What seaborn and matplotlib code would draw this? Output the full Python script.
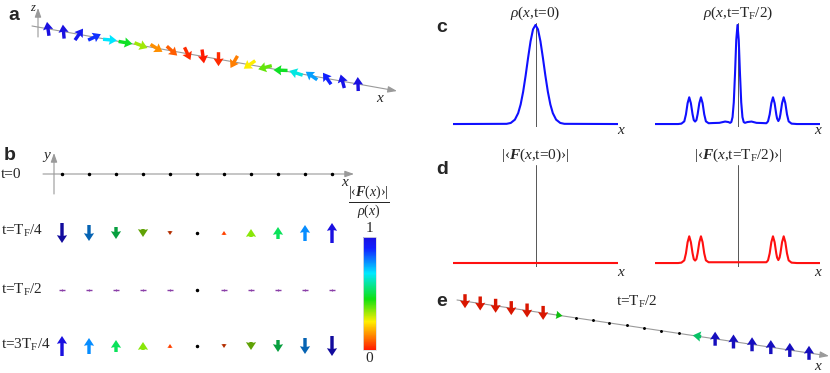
import numpy as np
import matplotlib
matplotlib.use("Agg")
import matplotlib.pyplot as plt
import seaborn as sns
from matplotlib.colors import LinearSegmentedColormap, Normalize, to_rgb
from matplotlib.cm import ScalarMappable

W, H = 830, 373

# ---- data ----
# a: spin chain at t=0, screen angle (deg, clockwise from up) and colour value
a_sites = np.arange(21)
a_angle = [-8, -5, 35, 65, 95, 100, 112, 122, 132, 155, 172, 180,
           210, 235, 255, 272, 288, 305, 325, 345, 358]
a_color = [1.0, 1.0, 0.95, 0.88, 0.68, 0.47, 0.33, 0.14, 0.08, 0.02, 0.0,
           0.02, 0.12, 0.25, 0.38, 0.47, 0.65, 0.76, 0.9, 0.97, 1.0]

# b: y-component of spin along the chain for the four times
b_sites = np.arange(-5, 6)
b_labels = ["t=0", r"t=T$_\mathrm{F}$/4", r"t=T$_\mathrm{F}$/2", r"t=3T$_\mathrm{F}$/4"]
b_quarter = [-1.0, -0.8, -0.6, -0.4, -0.2, 0.0, 0.2, 0.4, 0.6, 0.8, 1.0]
b_three_quarter = [1.0, 0.8, 0.6, 0.4, 0.2, 0.0, -0.2, -0.4, -0.6, -0.8, -1.0]
b_ratio = [1.0, 0.78, 0.52, 0.35, 0.05, 0.0, 0.05, 0.35, 0.52, 0.78, 1.0]

# c: density at t=0 and t=TF/2
c0_x = [-1, -0.35, -0.3, -0.25, -0.21, -0.18, -0.15, -0.12, -0.09, -0.06, -0.03, 0,
        0.03, 0.06, 0.09, 0.12, 0.15, 0.18, 0.21, 0.25, 0.3, 0.35, 1]
c0_y = [0, 0.002, 0.011, 0.044, 0.11, 0.198, 0.325, 0.487, 0.667, 0.835, 0.956, 1.0,
        0.956, 0.835, 0.667, 0.487, 0.325, 0.198, 0.11, 0.044, 0.011, 0.002, 0]

pairL_x = [-1, -0.72, -0.68, -0.645, -0.625, -0.605, -0.585, -0.565, -0.545, -0.53,
           -0.514, -0.498, -0.483, -0.463, -0.443, -0.423, -0.403, -0.383, -0.35]
pairL_y = [0, 0, 0.004, 0.027, 0.097, 0.21, 0.27, 0.21, 0.10, 0.04,
           0.025, 0.04, 0.10, 0.21, 0.27, 0.21, 0.097, 0.027, 0.008]
pairR_x = [0.35, 0.37, 0.39, 0.41, 0.43, 0.45, 0.47, 0.48, 0.495, 0.51, 0.52,
           0.54, 0.56, 0.58, 0.60, 0.62, 0.655, 0.72, 1]
pairR_y = [0.008, 0.027, 0.097, 0.21, 0.27, 0.21, 0.097, 0.055, 0.03, 0.055, 0.097,
           0.21, 0.27, 0.21, 0.097, 0.027, 0.004, 0, 0]
mid_x = [-0.3, -0.22, -0.15, -0.11, -0.09, -0.075, -0.06, -0.045, -0.03, -0.015, 0,
         0.015, 0.03, 0.045, 0.06, 0.075, 0.09, 0.12, 0.17, 0.23, 0.3]
mid_y = [0.01, 0.012, 0.025, 0.02, 0.012, 0.02, 0.07, 0.22, 0.51, 0.85, 1.0,
         0.85, 0.51, 0.22, 0.07, 0.02, 0.012, 0.02, 0.025, 0.012, 0.01]

# d: |<F>| at t=0 (flat) and t=TF/2
d0_x = [-1, 1]
d0_y = [0, 0]

# e: spin at t=TF/2, along-x and z components and colour value
e_sites = np.arange(21)
e_u = [0, 0, 0, 0, 0, 0, 0.45, 0, 0, 0, 0, 0, 0, 0, -0.6, 0, 0, 0, 0, 0, 0]
e_z = [-1, -1, -1, -1, -1, -1, 0, 0, 0, 0, 0, 0, 0, 0, 0, 1, 1, 1, 1, 1, 1]
e_color = [0, 0, 0, 0, 0, 0, 0.45, 0, 0, 0, 0, 0, 0, 0, 0.55, 1, 1, 1, 1, 1, 1]

# ---- style ----
sns.set_theme(style="white")
plt.rcParams["font.family"] = ["Liberation Serif", "DejaVu Serif"]
plt.rcParams["mathtext.fontset"] = "custom"
plt.rcParams["mathtext.rm"] = "Liberation Serif"
plt.rcParams["mathtext.it"] = "Liberation Serif:italic"
plt.rcParams["mathtext.bf"] = "Liberation Serif:bold:italic"

cmap = LinearSegmentedColormap.from_list(
    "spin", [(0, "#ff1a00"), (0.12, "#ff8000"), (0.25, "#ffee00"), (0.45, "#10e010"),
             (0.68, "#00e8ff"), (0.9, "#1020ff"), (1, "#1a10e0")])
gray = "#9a9a9a"
FS = 11

fig = plt.figure(figsize=(W / 100, H / 100), dpi=100)


def box(x0, y0, x1, y1):
    return [x0 / W, 1 - y1 / H, (x1 - x0) / W, (y1 - y0) / H]


def axis_arrow(ax, start, end):
    ax.annotate("", xy=end, xytext=start, annotation_clip=False,
                arrowprops=dict(arrowstyle="-|>,head_length=0.45,head_width=0.16",
                                color=gray, lw=0.8, shrinkA=0, shrinkB=0))


def qkw():
    return dict(angles="xy", scale_units="xy", scale=1, units="xy", width=3.4,
                headwidth=3.0, headlength=2.3, headaxislength=2.1, pivot="middle", zorder=4)


# ---- c / d curves ----
def curve_ax(x0, y0, x1, y1, ylim):
    ax = fig.add_axes(box(x0, y0, x1, y1))
    ax.set_xlim(-1, 1)
    ax.set_ylim(*ylim)
    ax.axis("off")
    ax.axvline(0, color="#555555", lw=0.7, zorder=1)
    return ax


ax = curve_ax(453, 23, 618, 127, (-0.03, 1.02))
sns.lineplot(x=c0_x, y=c0_y, ax=ax, color="#1010ff", lw=1.5, sort=False, estimator=None)
ax = curve_ax(655, 23, 820, 127, (-0.03, 1.02))
c1_x = pairL_x + mid_x + pairR_x
c1_y = pairL_y + mid_y + pairR_y
sns.lineplot(x=c1_x, y=c1_y, ax=ax, color="#1010ff", lw=1.5, sort=False, estimator=None)
ax = curve_ax(453, 165, 618, 267, (-0.04, 0.99))
sns.lineplot(x=d0_x, y=d0_y, ax=ax, color="#ff1010", lw=1.5, sort=False, estimator=None)
ax = curve_ax(655, 165, 820, 267, (-0.04, 0.99))
d1_x = pairL_x + pairR_x
d1_y = pairL_y + pairR_y
sns.lineplot(x=d1_x, y=d1_y, ax=ax, color="#ff1010", lw=1.5, sort=False, estimator=None)

# ---- colorbar ----
cax = fig.add_axes(box(363, 237, 376, 350))
cb = fig.colorbar(ScalarMappable(norm=Normalize(0, 1), cmap=cmap), cax=cax)
cb.set_ticks([])
cb.outline.set_edgecolor("#dddddd")
cb.outline.set_linewidth(0.6)

# ---- overlay in pixel units: a, b, e and text ----
ov = fig.add_axes([0, 0, 1, 1])
ov.set_xlim(0, W)
ov.set_ylim(H, 0)
ov.axis("off")
ov.patch.set_alpha(0)

# panel a
axis_arrow(ov, (32, 26), (397, 91))
axis_arrow(ov, (38, 37), (38, 8))
a_px = 48 + 15.5 * a_sites
a_py = 26 + 0.178 * (a_px - 32)
th = np.deg2rad(a_angle)
ov.quiver(a_px, a_py, 14 * np.sin(th), -14 * np.cos(th), color=cmap(a_color), **qkw())

# panel b
axis_arrow(ov, (43, 174), (354, 174))
axis_arrow(ov, (54, 194), (54, 153))
b_px = 197 + 27 * b_sites
row_y = [174, 233, 290, 346]
ov.plot(b_px, np.full(len(b_px), row_y[0]), "o", color="black", ms=1.5, zorder=4)
for r, vals in ((1, b_quarter), (2, None), (3, b_three_quarter)):
    if vals is None:
        nz = b_sites != 0
        ov.plot(b_px[nz], np.full(nz.sum(), row_y[r]), "_", color="#8a3fa8", ms=5, mew=1, zorder=4)
        ov.plot(b_px[nz], np.full(nz.sum(), row_y[r]), "|", color="#8a3fa8", ms=2, mew=0.8, zorder=4)
        ov.plot([b_px[~nz][0]], [row_y[r]], "o", color="black", ms=1.5, zorder=4)
        continue
    vals = np.array(vals)
    nz = vals != 0
    cols = []
    for v, c in zip(vals[nz], np.array(b_ratio)[nz]):
        rgb = np.array(to_rgb(cmap(c)))
        cols.append(rgb * 0.7 if v < 0 else rgb)
    ov.quiver(b_px[nz], np.full(nz.sum(), row_y[r]), np.zeros(nz.sum()), -20 * vals[nz],
              color=cols, **qkw())
    ov.plot(b_px[~nz], [row_y[r]], "o", color="black", ms=1.5, zorder=4)
for r, lab in enumerate(b_labels):
    ov.text(1, [175, 231, 290, 345][r], lab, fontsize=FS, ha="left", va="center")

# panel e
axis_arrow(ov, (457, 300), (829, 356))
e_px = 465 + 15.1 * e_sites + 0.105 * e_sites ** 2
e_py = 300 + 0.15 * (e_px - 457)
e_u = np.array(e_u)
e_z = np.array(e_z)
mv = (e_u != 0) | (e_z != 0)
eU = 14 * (0.99 * e_u)
eV = 14 * (0.15 * e_u - e_z)
ecols = [np.array(to_rgb(cmap(c))) * 0.85 for c in np.array(e_color)[mv]]
ov.quiver(e_px[mv], e_py[mv], eU[mv], eV[mv], color=ecols, **qkw())
ov.plot(e_px[~mv], e_py[~mv], "o", color="black", ms=1.1, zorder=4)

# ---- texts ----
for lab, (x, y) in zip("abcde", [(14, 16), (10, 155), (442, 28), (442, 170), (442, 302)]):
    ov.text(x, y, lab, fontsize=14, fontweight="bold", family="Liberation Sans",
            ha="center", va="center")

ov.text(33, 8, "z", fontsize=9, style="italic", ha="center", va="center")
ov.text(47, 156, "y", fontsize=FS, style="italic", ha="center", va="center")
for (x, y) in [(380, 98), (345, 182), (621, 131), (818, 131), (621, 273), (818, 273), (818, 366)]:
    ov.text(x, y, "x", fontsize=FS, style="italic", ha="center", va="center")

ov.text(535, 13, r"$\rho$($x$,t=0)", fontsize=FS, ha="center", va="center")
ov.text(738, 13, r"$\rho$($x$,t=T$_\mathrm{F}$/2)", fontsize=FS, ha="center", va="center")
ov.text(535, 155, r"|‹$\mathbf{F}$($x$,t=0)›|", fontsize=FS, ha="center", va="center")
ov.text(738, 155, r"|‹$\mathbf{F}$($x$,t=T$_\mathrm{F}$/2)›|", fontsize=FS, ha="center", va="center")
ov.text(637, 302, r"t=T$_\mathrm{F}$/2", fontsize=FS, ha="center", va="center")

ov.text(369, 202, r"$\dfrac{|‹\mathbf{F}(x)›|}{\rho(x)}$", fontsize=10, ha="center", va="center")
ov.text(369, 229, "1", fontsize=FS, ha="center", va="center")
ov.text(369, 358, "0", fontsize=FS, ha="center", va="center")

fig.savefig("out.png", dpi=100)
